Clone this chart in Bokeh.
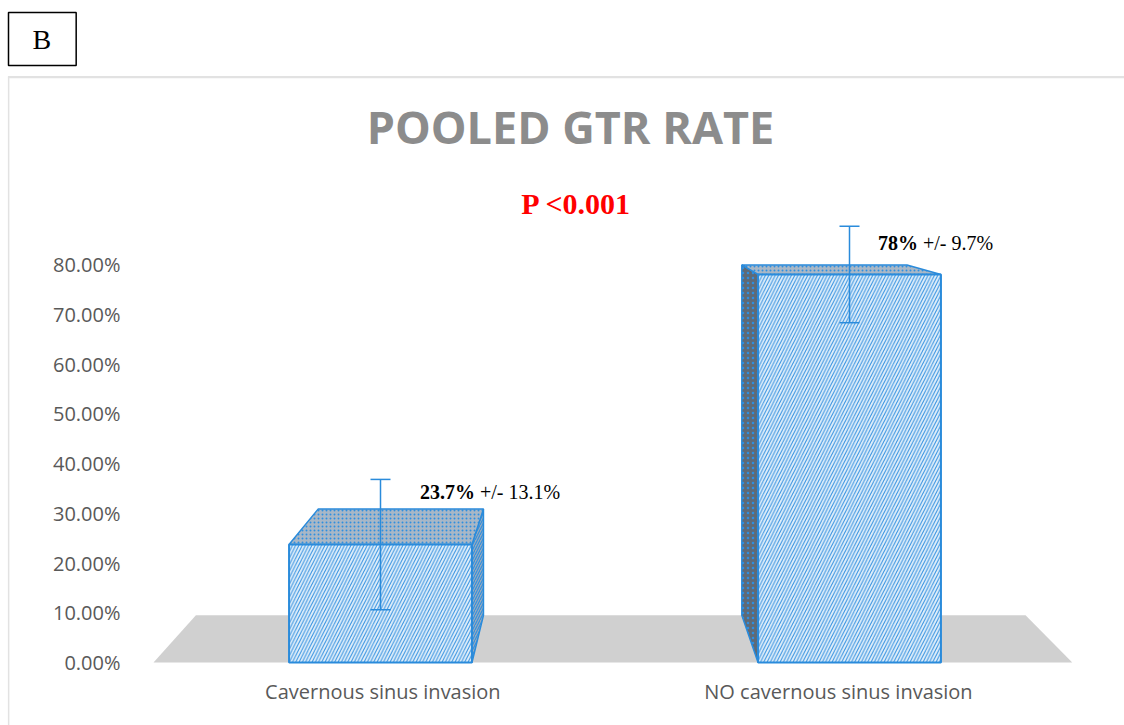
from bokeh.plotting import figure
from bokeh.models import (ColumnDataSource, Range1d, FixedTicker, Whisker, TeeHead,
                          Label)
from bokeh.core.properties import value
from bokeh.embed import file_html
from bokeh.resources import INLINE

# ---------------- data ----------------
categories = ["Cavernous sinus invasion", "NO cavernous sinus invasion"]
gtr_rate = [23.7, 78.0]          # pooled GTR rate, %
gtr_err = [13.1, 9.7]            # +/- , %
y_ticks = [0, 10, 20, 30, 40, 50, 60, 70, 80]
y_tick_labels = ["0.00%", "10.00%", "20.00%", "30.00%", "40.00%",
                 "50.00%", "60.00%", "70.00%", "80.00%"]
title_text = "POOLED GTR RATE"
p_text = "P <0.001"
panel_text = "B"

# ---------------- layout / style ----------------
BAR_W = 0.39
FLOOR_X = (-0.484, 1.475)
VPX, VPY, K = 0.448, 97.7, 0.903      # perspective vanishing point & depth scale
cat_label_x = [0.005, 0.9765]
label_dx = [0.2015, 0.146]
label_dy = [10.5, 6.4]

BLUE = "#2A8BDB"
HATCH_BLUE = "#2F8FE0"
BORDER_GRAY = "#E2E2E2"


def back(x, y):
    return VPX + (x - VPX) * K, VPY + (y - VPY) * K


def quad(pts):
    return [p[0] for p in pts], [p[1] for p in pts]


p = figure(width=1124, height=725, output_backend="svg", toolbar_location=None,
           x_range=Range1d(-0.52665, 1.58635), y_range=Range1d(-3.015, 118.995),
           min_border_left=133, min_border_right=0, min_border_top=70,
           min_border_bottom=48)
p.title.visible = False
p.outline_line_color = None
p.xgrid.visible = False
p.ygrid.visible = False
p.background_fill_color = "white"
p.border_fill_color = "white"

# floor
fx, fy = quad([(FLOOR_X[0], 0), (FLOOR_X[1], 0), back(FLOOR_X[1], 0), back(FLOOR_X[0], 0)])
p.patch(fx, fy, fill_color="#D0D0D0", line_color=None)

# bar faces
side_xs, side_ys, side_fill, side_hatch = [], [], [], []
top_xs, top_ys = [], []
for i, v in enumerate(gtr_rate):
    x0, x1 = i - BAR_W / 2, i + BAR_W / 2
    if i < VPX:
        sx, sy = quad([(x1, 0), (x1, v), back(x1, v), back(x1, 0)])
        side_fill.append("#98AABB")
        side_hatch.append("/")
    else:
        sx, sy = quad([(x0, 0), (x0, v), back(x0, v), back(x0, 0)])
        side_fill.append("#5E6A77")
        side_hatch.append(".")
    side_xs.append(sx)
    side_ys.append(sy)
    tx, ty = quad([(x0, v), (x1, v), back(x1, v), back(x0, v)])
    top_xs.append(tx)
    top_ys.append(ty)

p.patches(xs="xs", ys="ys", source=ColumnDataSource(dict(xs=side_xs, ys=side_ys,
          fc=side_fill, hp=side_hatch)),
          fill_color="fc", hatch_pattern="hp", hatch_color=HATCH_BLUE,
          hatch_scale=5, hatch_weight=1.1, line_color=BLUE, line_width=1.5)
p.patches(xs="xs", ys="ys", source=ColumnDataSource(dict(xs=top_xs, ys=top_ys)),
          fill_color="#A9B7C6", hatch_pattern=".", hatch_color=HATCH_BLUE,
          hatch_scale=4, hatch_weight=1.1, line_color=BLUE, line_width=1.5)

bars = ColumnDataSource(dict(x=list(range(len(gtr_rate))), top=gtr_rate))
p.vbar(x="x", top="top", bottom=0, width=BAR_W, source=bars,
       fill_color="#E1EEF9", hatch_pattern="/", hatch_color=HATCH_BLUE,
       hatch_scale=6.5, hatch_weight=1.0, line_color=BLUE, line_width=2)

# error bars
err = ColumnDataSource(dict(x=list(range(len(gtr_rate))),
                            upper=[v + e for v, e in zip(gtr_rate, gtr_err)],
                            lower=[v - e for v, e in zip(gtr_rate, gtr_err)]))
p.add_layout(Whisker(source=err, base="x", upper="upper", lower="lower",
                     dimension="height", line_color=BLUE, line_width=1.5,
                     upper_head=TeeHead(size=20, line_color=BLUE, line_width=1.5),
                     lower_head=TeeHead(size=20, line_color=BLUE, line_width=1.5),
                     level="annotation"))

# data labels
lab = ColumnDataSource(dict(
    x=[i + dx for i, dx in zip(range(len(gtr_rate)), label_dx)],
    y=[v + dy for v, dy in zip(gtr_rate, label_dy)],
    bold=[f"{v:g}%" for v in gtr_rate],
    rest=[f"+/- {e:g}%" for e in gtr_err]))
p.text(x="x", y="y", text="bold", source=lab, text_font=value("Liberation Serif"),
       text_font_style="bold", text_font_size="20px", text_align="right",
       text_baseline="middle", text_color="black")
p.text(x="x", y="y", text="rest", source=lab, text_font=value("Liberation Serif"),
       text_font_size="20px", text_align="left", text_baseline="middle",
       text_color="black", x_offset=5)

# title and p-value
p.add_layout(Label(x=0.405, y=107.7, text=title_text, text_font="Open Sans",
                   text_font_style="bold", text_font_size="45px", text_color="#8C8C8C",
                   text_align="center", text_baseline="middle"))
p.add_layout(Label(x=0.418, y=92.3, text=p_text, text_font="Liberation Serif",
                   text_font_style="bold", text_font_size="30px", text_color="#FF0000",
                   text_align="center", text_baseline="middle"))

# panel letter box and chart-area border (side-panel labels are not clipped)
p.add_layout(Label(x=8, y=12, x_units="canvas", y_units="canvas", text=panel_text,
                   text_font="Liberation Serif", text_font_size="28px",
                   text_color="black", text_align="left", text_baseline="top",
                   padding=dict(left=24, right=25, top=11, bottom=11),
                   border_line_color="black", border_line_width=1.5,
                   background_fill_color="white"), "above")
p.add_layout(Label(x=8, y=76, x_units="canvas", y_units="canvas", text=" ",
                   text_font_size="1px", text_align="left", text_baseline="top",
                   padding=dict(left=0, right=1300, top=0, bottom=0),
                   border_line_color=BORDER_GRAY, border_line_width=1.2,
                   background_fill_color=None), "above")
p.add_layout(Label(x=8, y=76, x_units="canvas", y_units="canvas", text=" ",
                   text_font_size="1px", text_align="left", text_baseline="top",
                   padding=dict(left=0, right=0, top=0, bottom=800),
                   border_line_color=BORDER_GRAY, border_line_width=1.2,
                   background_fill_color=None), "left")

# axes
p.yaxis.ticker = FixedTicker(ticks=y_ticks)
p.yaxis.major_label_overrides = {t: l for t, l in zip(y_ticks, y_tick_labels)}
p.yaxis.major_label_standoff = 13
p.xaxis.ticker = FixedTicker(ticks=cat_label_x)
p.xaxis.major_label_overrides = {t: c for t, c in zip(cat_label_x, categories)}
p.xaxis.major_label_standoff = 0
for ax in (p.xaxis, p.yaxis):
    ax.axis_line_color = None
    ax.major_tick_line_color = None
    ax.minor_tick_line_color = None
    ax.major_tick_out = 0
    ax.major_tick_in = 0
    ax.major_label_text_font = "Open Sans"
    ax.major_label_text_font_size = "20px"
    ax.major_label_text_color = "#595959"

open("out.html", "w").write(file_html(p, INLINE))
